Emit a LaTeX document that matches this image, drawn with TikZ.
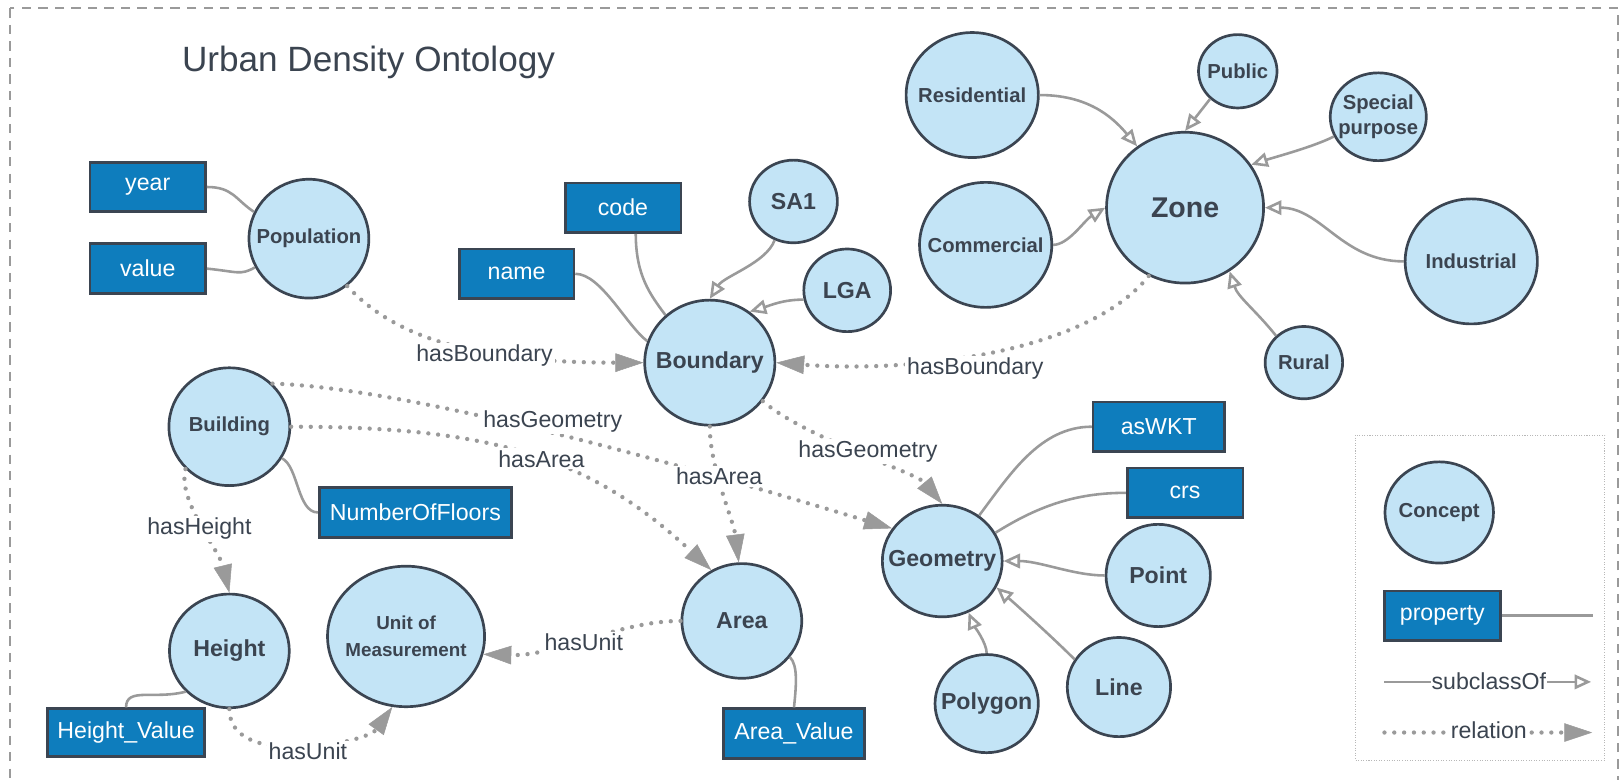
\documentclass[tikz,border=0pt]{standalone}
\usepackage{fontspec}
\setmainfont{Liberation Sans}
\usetikzlibrary{shapes.geometric,arrows.meta}
\definecolor{cfill}{HTML}{C3E4F6}
\definecolor{cborder}{HTML}{3B4552}
\definecolor{pfill}{HTML}{0E7DBD}
\definecolor{ink}{HTML}{3B4450}
\definecolor{lgray}{HTML}{9A9A9A}
\tikzset{
  concept/.style={ellipse, draw=cborder, line width=2.6pt, fill=cfill, inner sep=0pt},
  ctext/.style={text=ink, font=\fontsize{19.6}{25}\selectfont\bfseries, align=center, inner sep=0pt},
  ctextL/.style={text=ink, font=\fontsize{22.4}{26}\selectfont\bfseries, align=center, inner sep=0pt},
  prop/.style={rectangle, draw=cborder, line width=2.6pt, fill=pfill, text=white, font=\fontsize{22.4}{26}\selectfont, inner sep=0pt},
  plink/.style={draw=lgray, line width=2.5pt},
  sub/.style={draw=lgray, line width=2.5pt, -{Triangle[length=16pt,width=14pt,fill=white]}},
  rel/.style={draw=lgray, line width=4.2pt, line cap=round, dash pattern=on 0pt off 9.5pt, -{Triangle[length=27pt,width=18pt,line width=0.5pt]}},
  lbl/.style={fill=white, text=ink, font=\fontsize{22.4}{26}\selectfont, inner sep=2pt},
}
\begin{document}
\begin{tikzpicture}[x=1pt, y=-1pt]
\useasboundingbox (0,0) rectangle (1567,754);
% outer frame
\draw[draw=lgray, line width=2pt, dash pattern=on 9pt off 7pt] (10,8) rectangle (1566,790);
\node[anchor=base west, text=ink, font=\fontsize{34}{40}\selectfont, inner sep=0pt] (title) at (176,69) {Urban Density Ontology};

% concepts
\node[concept, minimum width=116pt, minimum height=115pt, label={[ctext]center:Population}] (pop) at (299,231) {};
\node[concept, minimum width=126pt, minimum height=121pt, label={[ctextL]center:Boundary}] (bound) at (687,351) {};
\node[concept, minimum width=85pt, minimum height=80pt, label={[ctextL]center:SA1}] (sa1) at (768,195) {};
\node[concept, minimum width=84pt, minimum height=80pt, label={[ctextL]center:LGA}] (lga) at (820,281) {};
\node[concept, minimum width=128pt, minimum height=121pt, label={[ctext]center:Residential}] (res) at (941,92) {};
\node[concept, minimum width=76pt, minimum height=71pt, label={[ctext]center:Public}] (pub) at (1198,69) {};
\node[concept, minimum width=93pt, minimum height=85pt, label={[ctext]center:Special\\purpose}] (spec) at (1334,113) {};
\node[concept, minimum width=128pt, minimum height=121pt, label={[ctext]center:Commercial}] (com) at (954,237) {};
\node[concept, minimum width=152pt, minimum height=146pt, label={[ctext, font=\fontsize{27.6}{32}\selectfont\bfseries]center:Zone}] (zone) at (1147,201) {};
\node[concept, minimum width=128pt, minimum height=121pt, label={[ctext]center:Industrial}] (ind) at (1424,253) {};
\node[concept, minimum width=75pt, minimum height=70pt, label={[ctext]center:Rural}] (rur) at (1262,351) {};
\node[concept, minimum width=117pt, minimum height=114pt, label={[ctext]center:Building}] (bld) at (222,413) {};
\node[concept, minimum width=116pt, minimum height=110pt, label={[ctextL]center:Height}] (height) at (222,630) {};
\node[concept, minimum width=152pt, minimum height=136pt, label={[ctext, font=\fontsize{18.2}{26}\selectfont\bfseries]center:Unit of\\Measurement}] (unit) at (393,616) {};
\node[concept, minimum width=116pt, minimum height=111pt, label={[ctextL]center:Area}] (area) at (718,601) {};
\node[concept, minimum width=116pt, minimum height=108pt, label={[ctextL]center:Geometry}] (geo) at (912,543) {};
\node[concept, minimum width=101pt, minimum height=99pt, label={[ctextL]center:Point}] (point) at (1121,557) {};
\node[concept, minimum width=100pt, minimum height=95pt, label={[ctextL]center:Polygon}] (poly) at (955,681) {};
\node[concept, minimum width=100pt, minimum height=96pt, label={[ctextL]center:Line}] (line) at (1083,665) {};

% properties
\node[prop, minimum width=112pt, minimum height=48pt] (year) at (143,181) {year};
\node[prop, minimum width=112pt, minimum height=48pt] (value) at (143,260) {value};
\node[prop, minimum width=112pt, minimum height=48pt] (code) at (603,201) {code};
\node[prop, minimum width=111pt, minimum height=48pt] (name) at (500,265) {name};
\node[prop, minimum width=186pt, minimum height=48pt] (nof) at (402,496) {NumberOfFloors};
\node[prop, minimum width=152pt, minimum height=46pt] (hv) at (122,709) {Height\_Value};
\node[prop, minimum width=137pt, minimum height=48pt] (av) at (768.5,710) {Area\_Value};
\node[prop, minimum width=127pt, minimum height=48pt] (wkt) at (1121.5,413) {asWKT};
\node[prop, minimum width=112pt, minimum height=48pt] (crs) at (1147,477) {crs};

% property links
\draw[plink] (year.east) .. controls +(25,0) and +(-18,-12) .. (pop.154);
\draw[plink] (value.east) .. controls +(30,3) and +(-14,8) .. (pop.208);
\draw[plink] (name.east) .. controls +(25,0) and +(-20,-15) .. (bound.161);
\draw[plink] (code.-64) .. controls +(0,40) and +(-15,-20) .. (bound.133);
\draw[plink] (bld.-31) .. controls +(16,8) and +(-20,0) .. (nof.west);
\draw[plink] (height.223) .. controls +(-30,8) and +(0,-20) .. (hv.north);
\draw[plink] (area.-37) .. controls +(8,8) and +(2,-20) .. (av.north);
\draw[plink] (geo.51) .. controls +(30,-40) and +(-50,0) .. (wkt.west);
\draw[plink] (geo.28) .. controls +(40,-25) and +(-50,0) .. (crs.west);

% subclass links
\draw[sub] (sa1.-116) .. controls +(-8,22) and +(14,-22) .. (bound.north);
\draw[sub] (lga.192) .. controls +(-20,0) and +(20,-6) .. (bound.52);
\draw[sub] (res.east) .. controls +(45,0) and +(-25,-30) .. (zone.128);
\draw[sub] (pub.225) -- (zone.north);
\draw[sub] (spec.204) .. controls +(-20,10) and +(25,-8) .. (zone.33);
\draw[sub] (com.east) .. controls +(15,0) and +(-20,12) .. (zone.west);
\draw[sub] (ind.west) .. controls +(-60,0) and +(55,0) .. (zone.east);
\draw[sub] (rur.136) .. controls +(-20,-25) and +(8,25) .. (zone.-55);
\draw[sub] (point.west) .. controls +(-30,0) and +(35,0) .. (geo.east);
\draw[sub] (line.148) .. controls +(-20,-20) and +(25,22) .. (geo.-26);
\draw[sub] (poly.north) .. controls +(0,-10) and +(5,12) .. (geo.-63);

% relations
\draw[rel] (pop.-51) .. controls +(50,55) and +(-150,0) .. (bound.west);
\draw[rel] (zone.242) .. controls +(-60,75) and +(130,10) .. (bound.east);
\draw[rel] (bld.45) .. controls +(150,5) and +(-150,-45) .. (geo.147);
\draw[rel] (bld.east) .. controls +(198,0) and +(-116,-108) .. (area.121);
\draw[rel] (bound.south) .. controls +(0,40) and +(-5,-40) .. (area.93);
\draw[rel] (bound.-36) .. controls +(40,35) and +(-25,-30) .. (geo.north);
\draw[rel] (bld.224) .. controls +(-8,30) and +(-10,-41) .. (height.north);
\draw[rel] (height.south) .. controls +(0,59) and +(-25,35) .. (unit.-101);
\draw[rel] (area.west) .. controls +(-60,0) and +(70,2) .. (unit.-13);

% relation labels
\node[lbl] (l1) at (469,344) {hasBoundary};
\node[lbl] (l2) at (944,357) {hasBoundary};
\node[lbl] (l3) at (535,408) {hasGeometry};
\node[lbl] (l4) at (524,444) {hasArea};
\node[lbl] (l5) at (696,461) {hasArea};
\node[lbl] (l6) at (840,437) {hasGeometry};
\node[lbl] (l7) at (193,512) {hasHeight};
\node[lbl] (l8) at (298,727) {hasUnit};
\node[lbl] (l9) at (565,622) {hasUnit};

% legend
\draw[draw=lgray!70, line width=0.8pt, dash pattern=on 1pt off 1.5pt] (1312,421) rectangle (1553,736);
\node[concept, minimum width=105pt, minimum height=98pt, label={[ctext]center:Concept}] (lconcept) at (1393,496) {};
\node[prop, minimum width=112pt, minimum height=48pt] (lprop) at (1396,596) {property};
\coordinate (lpend) at (1542,596);
\draw[plink] (lprop.east) -- (lpend);
\coordinate (lsa) at (1340,660);
\coordinate (lsb) at (1540,660);
\draw[sub] (lsa) -- (lsb);
\node[lbl, inner sep=0.5pt] (lsub) at (1441,659) {subclassOf};
\coordinate (lra) at (1340,709);
\coordinate (lrb) at (1541,709);
\draw[rel] (lra) -- (lrb);
\node[lbl, inner sep=0.5pt] (lrel) at (1441,707) {relation};
\end{tikzpicture}
\end{document}
